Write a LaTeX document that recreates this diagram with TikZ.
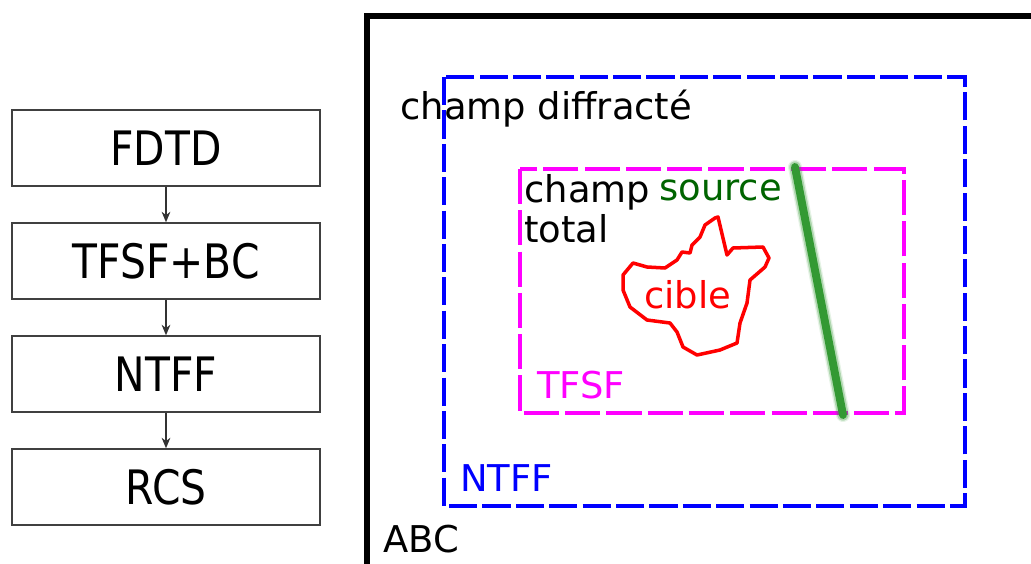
\documentclass[tikz,border=0pt]{standalone}
\usepackage{fontspec}
\setmainfont{DejaVu Sans}
\newfontfamily\flowfont[FakeStretch=0.86]{DejaVu Sans}
\usetikzlibrary{positioning,arrows.meta}

\definecolor{srcgreen}{HTML}{006400}
\definecolor{beamgreen}{HTML}{339933}
\definecolor{tfsfpink}{HTML}{FF00FF}
\definecolor{ntffblue}{HTML}{0000FF}

\tikzset{
  flowbox/.style={draw=black!75, line width=0.85pt, minimum width=6.16cm,
    minimum height=1.52cm, inner sep=0pt, font=\flowfont\fontsize{27}{30}\selectfont},
  flowarrow/.style={draw=black!80, line width=0.7pt, -{Stealth[length=6pt,width=5pt]}},
  lbl/.style={anchor=base west, inner sep=0pt, font=\fontsize{21}{25}\selectfont},
}

\begin{document}
\begin{tikzpicture}
  \useasboundingbox (0,0) rectangle (20.62,-11.26);
  % Left: chain of steps
  \node[flowbox] (fdtd) at (3.32,-2.96) {FDTD};
  \node[flowbox, below=0.71cm of fdtd] (tfsfbc) {TFSF+BC};
  \node[flowbox, below=0.71cm of tfsfbc] (ntffstep) {NTFF};
  \node[flowbox, below=0.71cm of ntffstep] (rcs) {RCS};
  \draw[flowarrow] (fdtd) -- (tfsfbc);
  \draw[flowarrow] (tfsfbc) -- (ntffstep);
  \draw[flowarrow] (ntffstep) -- (rcs);
  % Right: computational domain, ABC frame
  \draw[line width=3.4pt] (7.34,-11.5) -- (7.34,-0.32) -- (20.8,-0.32);
  % NTFF surface
  \draw[ntffblue, line width=2.2pt, dash pattern=on 16pt off 3pt]
    (8.88,-1.54) rectangle (19.3,-10.12);
  % TFSF surface
  \draw[tfsfpink, line width=2.2pt, dash pattern=on 20pt off 3.5pt]
    (10.4,-3.38) rectangle (18.08,-8.26);
  % Plane wave source, drawn blurred
  \draw[beamgreen, line width=8pt, opacity=0.12, line cap=round] (15.9,-3.34) -- (16.86,-8.3);
  \draw[beamgreen, line width=6.5pt, opacity=0.3, line cap=round] (15.9,-3.34) -- (16.86,-8.3);
  \draw[beamgreen, line width=4.5pt, line cap=round] (15.9,-3.34) -- (16.86,-8.3);
  % Target outline
  \draw[red, line width=2pt, line join=round]
    (14.36,-4.34) -- (14.54,-5.10) -- (14.66,-4.96) -- (15.26,-4.94) -- (15.38,-5.16)
    -- (15.30,-5.34) -- (15.00,-5.60) -- (14.94,-6.06) -- (14.80,-6.46) -- (14.74,-6.86)
    -- (14.40,-7.00) -- (13.94,-7.10) -- (13.66,-6.94) -- (13.54,-6.64) -- (13.40,-6.46)
    -- (12.94,-6.40) -- (12.60,-6.14) -- (12.46,-5.80) -- (12.46,-5.50) -- (12.66,-5.26)
    -- (12.94,-5.34) -- (13.30,-5.36) -- (13.54,-5.20) -- (13.64,-5.04) -- (13.80,-5.06)
    -- (13.84,-4.90) -- (14.00,-4.74) -- (14.10,-4.50) -- (14.30,-4.36) -- cycle;
  % labels
  \node[lbl] (diffr) at (8.0,-2.4) {champ diffracté};
  \node[lbl] (champ) at (10.48,-4.04) {champ};
  \node[lbl] (total) at (10.48,-4.84) {total};
  \node[lbl, srcgreen] (source) at (13.18,-4.0) {source};
  \node[lbl, red] (cible) at (12.88,-6.16) {cible};
  \node[lbl, tfsfpink] (tfsf) at (10.74,-7.96) {TFSF};
  \node[lbl, ntffblue] (ntff) at (9.2,-9.82) {NTFF};
  \node[lbl] (abc) at (7.66,-11.04) {ABC};
\end{tikzpicture}
\end{document}
